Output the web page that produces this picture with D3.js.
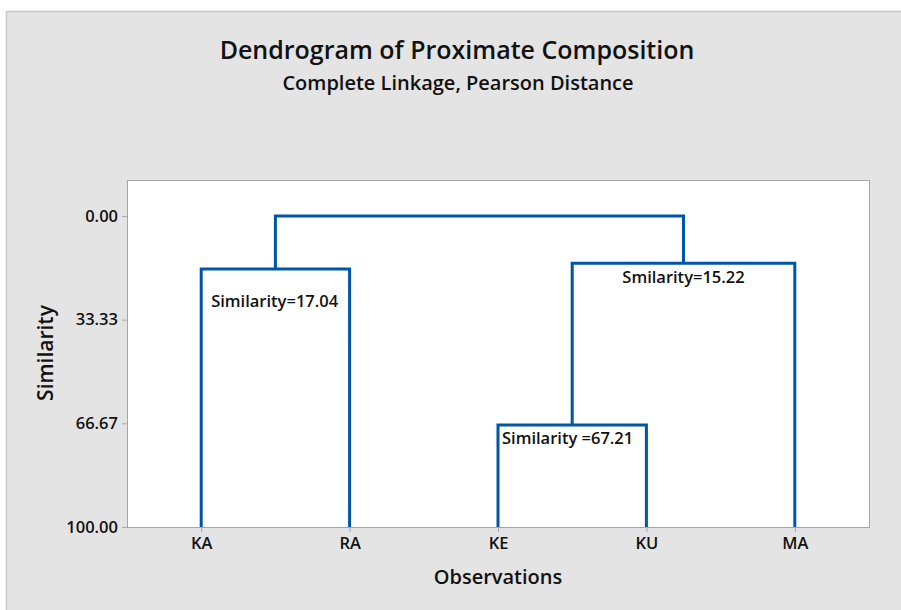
<!DOCTYPE html>
<html>
<head>
<meta charset="utf-8">
<script src="https://cdn.jsdelivr.net/npm/d3@7"></script>
<style>
  html, body { margin: 0; padding: 0; background: #fff; }
  text { font-family: "Open Sans", "Noto Sans", sans-serif; fill: #111; }
</style>
</head>
<body>
<svg id="chart" width="901" height="610"></svg>
<script>
// observations in leaf order along the x axis
const observations = ['KA', 'RA', 'KE', 'KU', 'MA'];

// cluster joins, in the order they were merged
const joinIds = ['KE-KU', 'KA-RA', 'KE-KU-MA', 'ALL'];
const joinLeft = ['KE', 'KA', 'KE-KU', 'KA-RA'];
const joinRight = ['KU', 'RA', 'MA', 'KE-KU-MA'];
const joinSimilarity = [67.21, 17.04, 15.22, 0];

// annotation text shown under some joins
const noteJoin = ['KA-RA', 'KE-KU-MA', 'KE-KU'];
const noteText = ['Similarity=17.04', 'Smilarity=15.22', 'Similarity =67.21'];

const yTicks = [0, 33.33, 66.67, 100];

const svg = d3.select('#chart');
const W = 901, H = 610;
const plot = { left: 127, right: 869, top: 180, bottom: 527 };

// outer frame
svg.append('rect').attr('x', 6.5).attr('y', 11.5).attr('width', W).attr('height', H)
  .attr('fill', '#e4e4e4').attr('stroke', '#c8c8c8').attr('stroke-width', 1.5);

svg.append('rect')
  .attr('x', plot.left).attr('y', plot.top)
  .attr('width', plot.right - plot.left).attr('height', plot.bottom - plot.top)
  .attr('fill', '#fff');

const x = d3.scalePoint().domain(observations).range([plot.left, plot.right]).padding(0.5);
const y = d3.scaleLinear().domain([0, 100]).range([216, plot.bottom]);

// positions of every node (leaves + joins)
const pos = {};
observations.forEach(o => { pos[o] = { x: x(o), y: 100 }; });
joinIds.forEach((id, i) => {
  const l = pos[joinLeft[i]], r = pos[joinRight[i]];
  pos[id] = { x: (l.x + r.x) / 2, y: joinSimilarity[i] };
});

const links = joinIds.map((id, i) => ({ id, l: pos[joinLeft[i]], r: pos[joinRight[i]], s: joinSimilarity[i] }));

svg.append('g').selectAll('path')
  .data(links)
  .join('path')
  .attr('fill', 'none')
  .attr('stroke', '#0056a6')
  .attr('stroke-width', 3)
  .attr('stroke-linejoin', 'miter')
  .attr('d', d => `M${d.l.x},${y(d.l.y)}V${y(d.s)}H${d.r.x}V${y(d.r.y)}`);

// plot border
svg.append('rect')
  .attr('x', plot.left + 0.5).attr('y', plot.top + 0.5)
  .attr('width', plot.right - plot.left).attr('height', plot.bottom - plot.top)
  .attr('fill', 'none').attr('stroke', '#a6a6a6').attr('stroke-width', 1);

// axes
const yAxis = svg.append('g').attr('transform', `translate(${plot.left},0)`)
  .call(d3.axisLeft(y).tickValues(yTicks).tickFormat(d3.format('.2f')).tickSize(5).tickPadding(4));
const xAxis = svg.append('g').attr('transform', `translate(0,${plot.bottom})`)
  .call(d3.axisBottom(x).tickSize(5).tickPadding(5));
[yAxis, xAxis].forEach(a => {
  a.select('.domain').remove();
  a.selectAll('line').attr('stroke', '#a6a6a6');
  a.selectAll('text').attr('font-size', 16.5).attr('font-weight', 600).attr('fill', '#111')
    .attr('font-family', '"Open Sans", sans-serif');
});

// join annotations
const noteDx = [10, 0, 4];
const noteDy = [38, 20, 19];
const noteAnchor = ['start', 'middle', 'start'];
svg.append('g').selectAll('text')
  .data(noteText)
  .join('text')
  .attr('x', (t, i) => {
    const j = joinIds.indexOf(noteJoin[i]);
    const base = noteAnchor[i] === 'start' ? pos[joinLeft[j]].x : pos[noteJoin[i]].x;
    return base + noteDx[i];
  })
  .attr('y', (t, i) => y(pos[noteJoin[i]].y) + noteDy[i])
  .attr('text-anchor', (t, i) => noteAnchor[i])
  .attr('font-size', 16.5).attr('font-weight', 600)
  .attr('xml:space', 'preserve')
  .style('white-space', 'pre')
  .text(t => t);

// titles
svg.append('text').attr('x', 457).attr('y', 59).attr('text-anchor', 'middle')
  .attr('font-size', 25).attr('font-weight', 600).text('Dendrogram of Proximate Composition');
svg.append('text').attr('x', 458).attr('y', 90).attr('text-anchor', 'middle')
  .attr('font-size', 20).attr('font-weight', 600).text('Complete Linkage, Pearson Distance');
svg.append('text').attr('x', 498).attr('y', 584).attr('text-anchor', 'middle')
  .attr('font-size', 20).attr('font-weight', 600).text('Observations');
svg.append('text').attr('transform', 'translate(53,353) rotate(-90)').attr('text-anchor', 'middle')
  .attr('font-size', 21).attr('font-weight', 600).text('Similarity');
</script>
</body>
</html>
